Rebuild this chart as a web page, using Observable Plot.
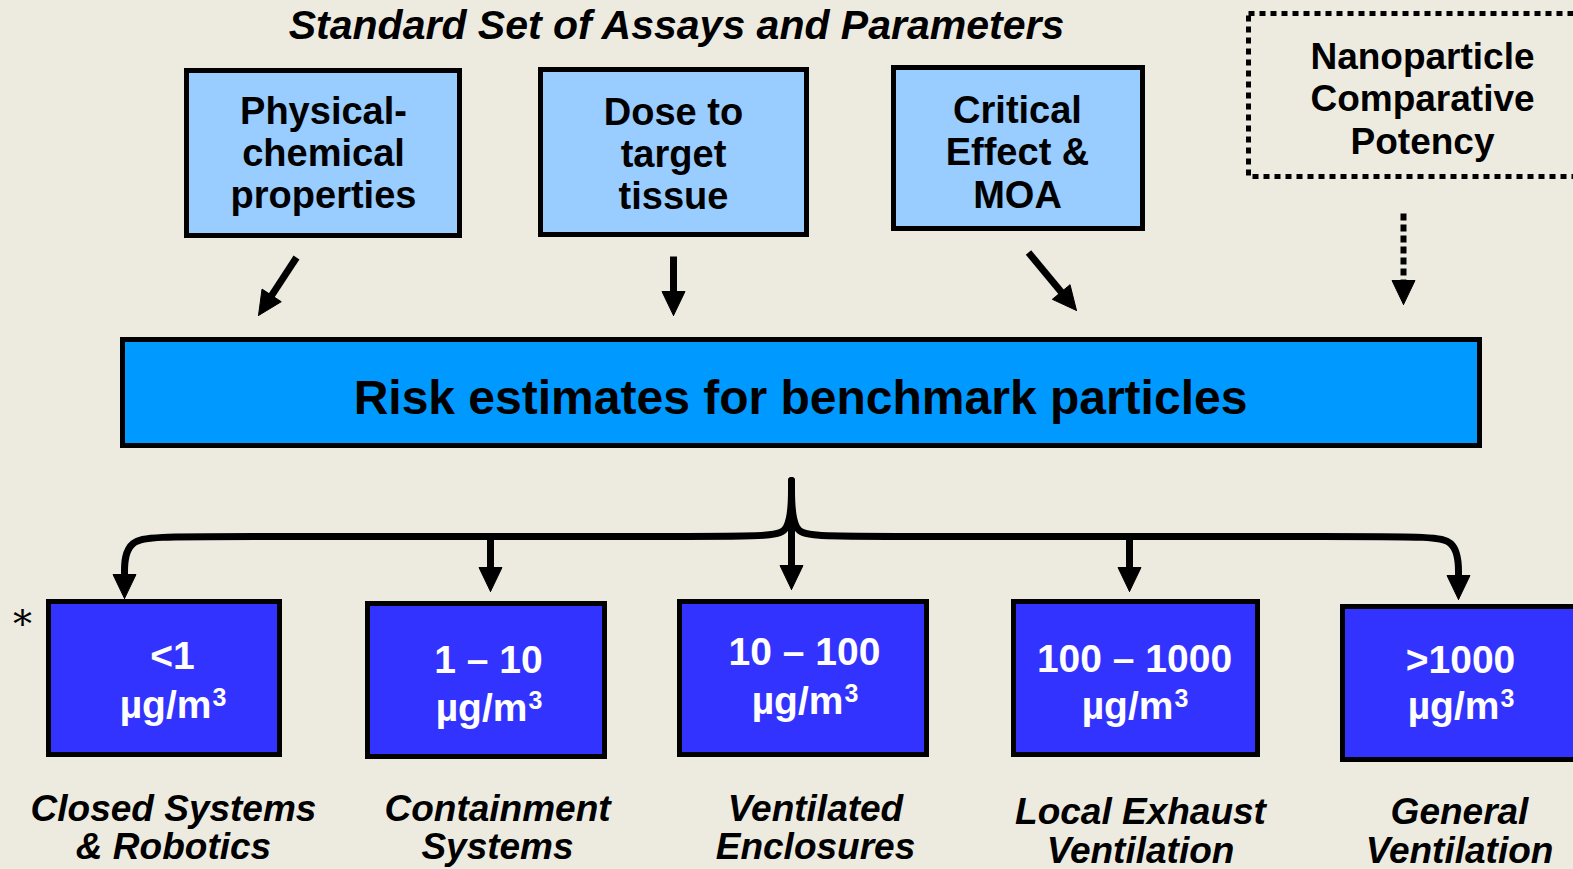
<!DOCTYPE html>
<html>
<head>
<meta charset="utf-8">
<script src="https://cdn.jsdelivr.net/npm/d3@7"></script>
<script src="https://cdn.jsdelivr.net/npm/@observablehq/plot@0.6"></script>
<style>
  html, body { margin: 0; padding: 0; background: #EDEBE0; overflow: hidden; }
  #chart svg { display: block; }
</style>
</head>
<body>
<div id="chart"></div>
<script>
// ---------- content ----------
const title = "Standard Set of Assays and Parameters";
const assayLabels = [
  ["Physical-", "chemical", "properties"],
  ["Dose to", "target", "tissue"],
  ["Critical", "Effect &", "MOA"]
];
const potencyLabel = ["Nanoparticle", "Comparative", "Potency"];
const riskLabel = "Risk estimates for benchmark particles";
const bandLabels = [
  ["<1", "µg/m³"],
  ["1 – 10", "µg/m³"],
  ["10 – 100", "µg/m³"],
  ["100 – 1000", "µg/m³"],
  [">1000", "µg/m³"]
];
const controlLabels = [
  ["Closed Systems", "& Robotics"],
  ["Containment", "Systems"],
  ["Ventilated", "Enclosures"],
  ["Local Exhaust", "Ventilation"],
  ["General", "Ventilation"]
];
const footnoteMark = "*";

// ---------- layout (pixel positions of the diagram) ----------
const W = 1573, H = 869;
const assayBoxes = [
  {x1: 184, x2: 462, y1: 68, y2: 238, cx: 323, base: [123, 165, 207]},
  {x1: 538, x2: 809, y1: 67, y2: 237, cx: 673, base: [124, 166, 208]},
  {x1: 891, x2: 1145, y1: 65, y2: 231, cx: 1017, base: [122, 164, 207]}
];
const potencyBox = {x1: 1246, x2: 1590, y1: 11, y2: 179, cx: 1422, base: [68, 110, 153]};
const riskBox = {x1: 120, x2: 1482, y1: 337, y2: 448, cx: 800, base: 413};
const bandBoxes = [
  {x1: 46, x2: 282, y1: 599, y2: 757, cx: 172, base: [668, 717]},
  {x1: 365, x2: 607, y1: 601, y2: 759, cx: 488, base: [672, 720]},
  {x1: 677, x2: 929, y1: 599, y2: 757, cx: 804, base: [664, 713]},
  {x1: 1011, x2: 1260, y1: 599, y2: 757, cx: 1134, base: [671, 718]},
  {x1: 1340, x2: 1600, y1: 604, y2: 762, cx: 1460, base: [672, 718]}
];
const controlPos = [
  {cx: 173, base: [820, 858]},
  {cx: 497, base: [820, 858]},
  {cx: 815, base: [820, 858]},
  {cx: 1140, base: [823, 862]},
  {cx: 1459, base: [823, 862]}
];
// straight arrows: from -> tip
const arrows = [
  {fx: 296, fy: 257, tx: 258, ty: 315, dashed: false},
  {fx: 673, fy: 256, tx: 673, ty: 315, dashed: false},
  {fx: 1028, fy: 252, tx: 1076, ty: 310, dashed: false},
  {fx: 1403, fy: 213, tx: 1403, ty: 304, dashed: true},
  {fx: 791, fy: 482, tx: 791, ty: 589, dashed: false},
  {fx: 490, fy: 536, tx: 490, ty: 591, dashed: false},
  {fx: 1129, fy: 536, tx: 1129, ty: 591, dashed: false},
  {fx: 124, fy: 570, tx: 124, ty: 598, dashed: false},
  {fx: 1458, fy: 570, tx: 1458, ty: 599, dashed: false}
];
// brace control points (two halves meeting at the peak)
const braceLeft = [[124, 578], [124, 536], [176, 536], [760, 536], [791, 536], [791, 480]];
const braceRight = [[791, 480], [791, 536], [822, 536], [1410, 536], [1458, 536], [1458, 578]];

// ---------- derived tables ----------
const FONT = "'Liberation Sans', Arial, Helvetica, sans-serif";
const headLen = 24, headW = 23;
const shafts = [], heads = [];
arrows.forEach((a, i) => {
  const dx = a.tx - a.fx, dy = a.ty - a.fy, len = Math.hypot(dx, dy);
  const ux = dx / len, uy = dy / len;
  const bx = a.tx - ux * headLen, by = a.ty - uy * headLen;
  shafts.push({x1: a.fx, y1: a.fy, x2: bx + ux * 2, y2: by + uy * 2, dashed: a.dashed});
  const px = -uy, py = ux;
  heads.push({id: i, x: a.tx, y: a.ty});
  heads.push({id: i, x: bx + px * headW / 2, y: by + py * headW / 2});
  heads.push({id: i, x: bx - px * headW / 2, y: by - py * headW / 2});
  heads.push({id: i, x: a.tx, y: a.ty});
});
const brace = [
  ...braceLeft.map(([x, y]) => ({part: "L", x, y})),
  ...braceRight.map(([x, y]) => ({part: "R", x, y}))
];

function lineRows(labels, boxes) {
  const rows = [];
  labels.forEach((lines, i) => lines.forEach((t, j) =>
    rows.push({text: t, x: boxes[i].cx, y: boxes[i].base[j]})));
  return rows;
}
const assayText = lineRows(assayLabels, assayBoxes);
const potencyText = lineRows([potencyLabel], [potencyBox]);
const controlText = lineRows(controlLabels, controlPos);

// band labels: the unit line is split into base text + raised superscript "3"
const BAND_FS = 39, SUP_FS = 25;
const ctx = document.createElement("canvas").getContext("2d");
function measure(t, fs) { ctx.font = `bold ${fs}px 'Liberation Sans', Arial, sans-serif`; return ctx.measureText(t).width; }
const bandMain = [], bandSup = [];
bandLabels.forEach((lines, i) => {
  const b = bandBoxes[i];
  bandMain.push({text: lines[0], x: b.cx, y: b.base[0], anchor: "middle"});
  const [unit] = lines[1].split("³");
  const supText = "3";
  const wu = measure(unit, BAND_FS), ws = measure(supText, SUP_FS);
  const left = b.cx - (wu + ws) / 2;
  bandMain.push({text: unit, x: left, y: b.base[1], anchor: "start"});
  bandSup.push({text: supText, x: left + wu + 1, y: b.base[1] - 12});
});

const chart = Plot.plot({
  width: W,
  height: H,
  margin: 0,
  x: {domain: [0, W], range: [0, W], axis: null},
  y: {domain: [0, H], range: [0, H], axis: null},
  style: {background: "#EDEBE0", overflow: "hidden"},
  marks: [
    // title
    Plot.text([title], {x: () => 676, y: () => 38, text: d => d, fontSize: 41, fontWeight: "bold",
      fontStyle: "italic", fontFamily: FONT, fill: "black", textAnchor: "middle", lineAnchor: "bottom"}),
    // assay boxes
    Plot.rect(assayBoxes, {x1: d => d.x1 + 2.5, x2: d => d.x2 - 2.5, y1: d => d.y1 + 2.5, y2: d => d.y2 - 2.5,
      fill: "#99CCFF", stroke: "black", strokeWidth: 5}),
    Plot.text(assayText, {x: "x", y: "y", text: "text", fontSize: 38, fontWeight: "bold", fontFamily: FONT,
      fill: "black", textAnchor: "middle", lineAnchor: "bottom"}),
    // potency dotted box
    Plot.rect([potencyBox], {x1: d => d.x1 + 2.5, x2: d => d.x2, y1: d => d.y1 + 2.5, y2: d => d.y2 - 2.5,
      fill: "none", stroke: "black", strokeWidth: 5, strokeDasharray: "6,5"}),
    Plot.text(potencyText, {x: "x", y: "y", text: "text", fontSize: 37, fontWeight: "bold", fontFamily: FONT,
      fill: "black", textAnchor: "middle", lineAnchor: "bottom"}),
    // arrows
    Plot.link(shafts.filter(d => !d.dashed), {x1: "x1", y1: "y1", x2: "x2", y2: "y2", stroke: "black",
      strokeWidth: 7, strokeLinecap: "butt"}),
    Plot.link(shafts.filter(d => d.dashed), {x1: "x1", y1: "y1", x2: "x2", y2: "y2", stroke: "black",
      strokeWidth: 6, strokeDasharray: "7,4", strokeLinecap: "butt"}),
    Plot.line(heads, {x: "x", y: "y", z: "id", fill: "black", stroke: "black", strokeWidth: 1, curve: "linear"}),
    // risk box
    Plot.rect([riskBox], {x1: d => d.x1 + 2.5, x2: d => d.x2 - 2.5, y1: d => d.y1 + 2.5, y2: d => d.y2 - 2.5,
      fill: "#0099FF", stroke: "black", strokeWidth: 5}),
    Plot.text([riskLabel], {x: () => riskBox.cx, y: () => riskBox.base, text: d => d, fontSize: 48,
      fontWeight: "bold", fontFamily: FONT, fill: "black", textAnchor: "middle", lineAnchor: "bottom"}),
    // brace
    Plot.line(brace, {x: "x", y: "y", z: "part", stroke: "black", strokeWidth: 7, curve: "basis",
      strokeLinecap: "round", strokeLinejoin: "round"}),
    // band boxes
    Plot.rect(bandBoxes, {x1: d => d.x1 + 2.5, x2: d => d.x2 - 2.5, y1: d => d.y1 + 2.5, y2: d => d.y2 - 2.5,
      fill: "#3333FF", stroke: "black", strokeWidth: 5}),
    Plot.text(bandMain.filter(d => d.anchor === "middle"), {x: "x", y: "y", text: "text", fontSize: BAND_FS,
      fontWeight: "bold", fontFamily: FONT, fill: "white", textAnchor: "middle", lineAnchor: "bottom"}),
    Plot.text(bandMain.filter(d => d.anchor === "start"), {x: "x", y: "y", text: "text", fontSize: BAND_FS,
      fontWeight: "bold", fontFamily: FONT, fill: "white", textAnchor: "start", lineAnchor: "bottom"}),
    Plot.text(bandSup, {x: "x", y: "y", text: "text", fontSize: SUP_FS, fontWeight: "bold", fontFamily: FONT,
      fill: "white", textAnchor: "start", lineAnchor: "bottom"}),
    // footnote star
    Plot.text([footnoteMark], {x: () => 22, y: () => 636, text: d => d, fontSize: 38,
      fontFamily: "'DejaVu Serif', serif", fill: "black", textAnchor: "middle", lineAnchor: "bottom"}),
    // control labels
    Plot.text(controlText, {x: "x", y: "y", text: "text", fontSize: 37, fontWeight: "bold", fontStyle: "italic",
      fontFamily: FONT, fill: "black", textAnchor: "middle", lineAnchor: "bottom"})
  ]
});
document.getElementById("chart").appendChild(chart);
</script>
</body>
</html>
